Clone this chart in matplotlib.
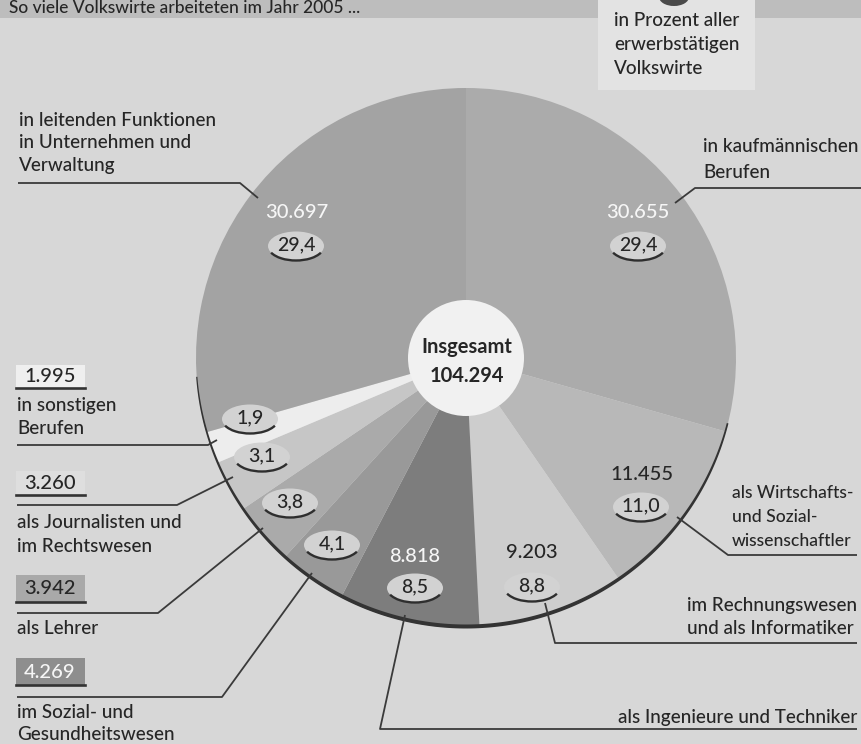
import numpy as np
import matplotlib
matplotlib.use("Agg")
import matplotlib.pyplot as plt
from matplotlib.patches import Ellipse, Arc, Rectangle, Circle, Polygon

# ---------------- data ----------------
categories = [
    "in kaufmännischen Berufen",
    "als Wirtschafts- und Sozialwissenschaftler",
    "im Rechnungswesen und als Informatiker",
    "als Ingenieure und Techniker",
    "im Sozial- und Gesundheitswesen",
    "als Lehrer",
    "als Journalisten und im Rechtswesen",
    "in sonstigen Berufen",
    "in leitenden Funktionen in Unternehmen und Verwaltung",
]
counts = [30655, 11455, 9203, 8818, 4269, 3942, 3260, 1995, 30697]
percents = [29.4, 11.0, 8.8, 8.5, 4.1, 3.8, 3.1, 1.9, 29.4]
total = 104294
title = "So viele Volkswirte arbeiteten im Jahr 2005 ..."
legend_lines = ["in Prozent aller", "erwerbstätigen", "Volkswirte"]

def de_int(v):
    return f"{v:,}".replace(",", ".")

def de_pct(v):
    return f"{v:.1f}".replace(".", ",")

# ---------------- style ----------------
FONT = ["Lato", "DejaVu Sans"]
plt.rcParams["font.family"] = FONT
FS = 13.6
FW = 500
BG = "#d7d7d7"
DARK = "#262626"
LINE = "#3a3a3a"
WHITE = "#f6f6f6"
slice_colors = ["#ababab", "#b8b8b8", "#cdcdcd", "#7d7d7d", "#999999",
                "#aaaaaa", "#c6c6c6", "#ededed", "#a3a3a3"]

W, H = 861, 744
CX, CY, R = 466, 358, 270

fig = plt.figure(figsize=(W / 100, H / 100), dpi=100)
fig.patch.set_facecolor(BG)
ax = fig.add_axes([0, 0, 1, 1])
ax.set_facecolor(BG)

# pie: y axis is inverted (pixel coords), so counterclock=True in data = clockwise on screen
ax.pie(counts, colors=slice_colors, startangle=-90, counterclock=True,
       radius=R, center=(CX, CY), wedgeprops=dict(linewidth=0))
ax.set_xlim(0, W)
ax.set_ylim(H, 0)
ax.set_aspect("auto")
ax.axis("off")

# dark lower rim (shadow) of the pie
th = np.radians(np.linspace(14, 176, 200))
wrim = 1.0 + 3.0 * np.sin(th)
outer = np.c_[CX + (R + 0.5) * np.cos(th), CY + (R + 0.5) * np.sin(th)]
inner = np.c_[CX + (R + 0.5 - wrim[::-1]) * np.cos(th[::-1]),
              CY + (R + 0.5 - wrim[::-1]) * np.sin(th[::-1])]
ax.add_patch(Polygon(np.r_[outer, inner], closed=True, fc="#333333", ec="none", zorder=3))

# centre disc
ax.add_patch(Circle((CX, CY), 58, fc="#f1f1f1", ec="none", zorder=4))
ax.text(CX + 1, 347, "Insgesamt", ha="center", va="center", fontsize=14.5,
        fontweight="bold", color=DARK, zorder=5)
ax.text(CX + 1, 376, de_int(total), ha="center", va="center", fontsize=14.5,
        fontweight="bold", color=DARK, zorder=5)

# top strip and legend box
ax.add_patch(Rectangle((0, 0), W, 18, fc="#bdbdbd", ec="none", zorder=1))
ax.add_patch(Rectangle((598, 0), 157, 90, fc="#e3e3e3", ec="none", zorder=2))
ax.add_patch(Ellipse((674, -3), 30, 18, fc="#4a4a4a", ec="none", zorder=3))
ax.text(9, 13, title, ha="left", va="baseline", fontsize=12.5, fontweight=FW,
        color=DARK, zorder=3)
for i, t in enumerate(legend_lines):
    ax.text(614, 21 + i * 23.5, t, ha="left", va="center", fontsize=FS,
            fontweight=FW, color=DARK, zorder=3)

# in-slice number labels and percent badges (layout positions, pixels)
count_pos = {0: (638, 212, WHITE), 1: (642, 475, DARK), 2: (532, 553, DARK),
             3: (415, 557, WHITE), 8: (297, 212, WHITE)}
badge_pos = [(638, 246), (641, 507), (532, 587), (415, 588), (332, 545),
             (290, 503), (262, 457), (250, 419), (296, 246)]

for i, (x, y, c) in count_pos.items():
    ax.text(x, y, de_int(counts[i]), ha="center", va="center", fontsize=14.5,
            fontweight=FW, color=c, zorder=6)

for i, (x, y) in enumerate(badge_pos):
    ax.add_patch(Ellipse((x, y), 56, 29, fc="#d2d2d2", ec="none", zorder=6))
    ax.add_patch(Arc((x, y), 56, 29, theta1=15, theta2=165, color="#2e2e2e",
                     lw=1.7, zorder=7))
    ax.text(x, y - 1, de_pct(percents[i]), ha="center", va="center",
            fontsize=14, fontweight=FW, color=DARK, zorder=8)

# leader lines
leaders = [
    [(18, 183), (240, 183), (258, 198)],
    [(861, 188), (695, 188), (675, 203)],
    [(17, 445), (208, 445), (217, 440)],
    [(17, 505), (177, 505), (233, 477)],
    [(17, 613), (158, 613), (263, 528)],
    [(17, 697), (222, 697), (312, 573)],
    [(857, 729), (380, 729), (405, 615)],
    [(857, 643), (555, 643), (545, 603)],
    [(857, 555), (728, 555), (677, 517)],
]
for pts in leaders:
    xs, ys = zip(*pts)
    ax.plot(xs, ys, color=LINE, lw=1.3, zorder=9, solid_capstyle="butt")

# left-side value boxes (only the small slices)
box_specs = [  # (slice index, y top, y bottom, fill, text colour)
    (7, 365, 388, "#efefef", DARK),
    (6, 471, 495, "#dedede", DARK),
    (5, 575, 602, "#a9a9a9", DARK),
    (4, 658, 685, "#8e8e8e", WHITE),
]
for idx, y0, y1, fc, tc in box_specs:
    ax.add_patch(Rectangle((16, y0), 69, y1 - y0, fc=fc, ec="none", zorder=2))
    ax.plot([16, 85], [y1, y1], color="#333333", lw=1.9, zorder=3)
    ax.text(50, (y0 + y1) / 2 + 0.5, de_int(counts[idx]), ha="center", va="center",
            fontsize=14.5, fontweight=FW, color=tc, zorder=4)

# category texts
def lines(x, y, rows, step=23, ha="left", fs=FS):
    for k, r in enumerate(rows):
        ax.text(x, y + k * step, r, ha=ha, va="center", fontsize=fs,
                fontweight=FW, color=DARK, zorder=5)

lines(19, 120, ["in leitenden Funktionen", "in Unternehmen und", "Verwaltung"], 22.5)
lines(703, 147, ["in kaufmännischen", "Berufen"], 25)
lines(17, 405, ["in sonstigen", "Berufen"])
lines(17, 523, ["als Journalisten und", "im Rechtswesen"])
lines(17, 628, ["als Lehrer"])
lines(17, 713, ["im Sozial- und", "Gesundheitswesen"], 22)
lines(732, 493, ["als Wirtschafts-", "und Sozial-", "wissenschaftler"], 24, fs=12.6)
lines(687, 605, ["im Rechnungswesen", "und als Informatiker"])
lines(618, 717, ["als Ingenieure und Techniker"])

fig.savefig("out.png", dpi=100, facecolor=BG)
